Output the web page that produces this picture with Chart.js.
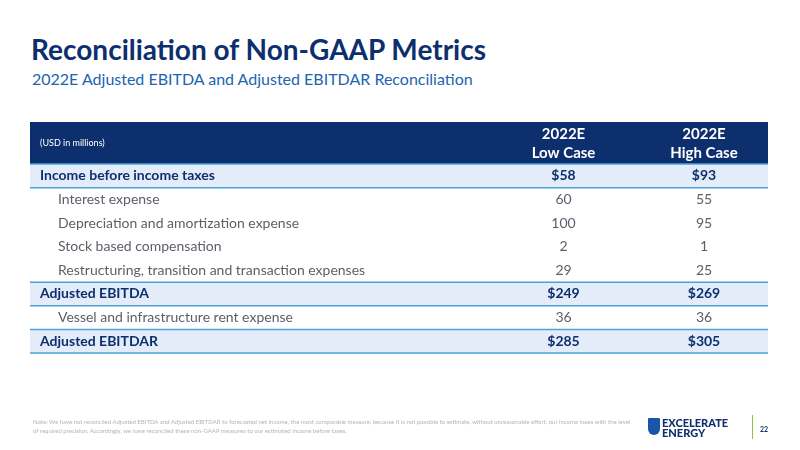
<!DOCTYPE html>
<html>
<head>
<meta charset="utf-8">
<script src="https://cdn.jsdelivr.net/npm/chart.js@4"></script>
<style>
  body { margin: 0; width: 800px; height: 450px; background: #fff; font-family: Lato, sans-serif; overflow: hidden; position: relative; }
  #title { position: absolute; left: 31px; top: 32px; font-size: 28px; font-weight: 700; color: #0d2f6e; }
  #sub { position: absolute; left: 32px; top: 69px; font-size: 16px; color: #2064b0; }
  #wrap { position: absolute; left: 0; top: 0; width: 800px; height: 450px; }
  #note { position: absolute; left: 33px; top: 417px; width: 600px; font-size: 6px; line-height: 9px; color: #b0b4bc; }
  #logo { position: absolute; left: 662px; top: 418px; font-size: 11px; font-weight: 900; line-height: 10px; color: #0d2f6e; }
  #shield { position: absolute; left: 648px; top: 418px; width: 12px; height: 17px; background: #1a56a8; border-radius: 1px 1px 6px 6px; }
  #bar { position: absolute; left: 752px; top: 415px; width: 1px; height: 24px; background: #8cc63f; }
  #pg { position: absolute; left: 760px; top: 425px; font-size: 7px; color: #0d2f6e; font-weight: 700; }
</style>
</head>
<body>
<div id="title">Reconciliation of Non-GAAP Metrics</div>
<div id="sub">2022E Adjusted EBITDA and Adjusted EBITDAR Reconciliation</div>
<div id="wrap"><canvas id="c" width="800" height="450"></canvas></div>
<div id="note">Note: We have not reconciled Adjusted EBITDA and Adjusted EBITDAR to forecasted net income, the most comparable measure, because it is not possible to estimate, without unreasonable effort, our income taxes with the level of required precision. Accordingly, we have reconciled these non-GAAP measures to our estimated income before taxes.</div>
<div id="shield"></div>
<div id="logo">EXCELERATE<br>ENERGY</div>
<div id="bar"></div>
<div id="pg">22</div>
<script>
// rows of the reconciliation table
const rowLabels = [
  'Income before income taxes',
  'Interest expense',
  'Depreciation and amortization expense',
  'Stock based compensation',
  'Restructuring, transition and transaction expenses',
  'Adjusted EBITDA',
  'Vessel and infrastructure rent expense',
  'Adjusted EBITDAR'
];
const lowCase = ['$58', '60', '100', '2', '29', '$249', '36', '$285'];
const highCase = ['$93', '55', '95', '1', '25', '$269', '36', '$305'];
const boldRows = [true, false, false, false, false, true, false, true];
const columnHeads = ['(USD in millions)', ['2022E', 'Low Case'], ['2022E', 'High Case']];

const NAVY = '#0d2f6e';
const LINE = '#4aa3df';

const tablePlugin = {
  id: 'table',
  afterDatasetsDraw(chart) {
    const ctx = chart.ctx, a = chart.chartArea, y = chart.scales.y;
    const c1 = 487, c2 = 640, m1 = (c1 + c2) / 2, m2 = (c2 + a.right) / 2;
    const band = (a.bottom - a.top) / rowLabels.length;
    ctx.save();
    // header
    ctx.fillStyle = NAVY;
    ctx.fillRect(a.left, 122, a.right - a.left, a.top - 122);
    ctx.fillStyle = '#fff';
    ctx.font = '9px Lato';
    ctx.textBaseline = 'middle';
    ctx.fillText(columnHeads[0], a.left + 10, 143);
    ctx.font = 'bold 15px Lato';
    ctx.textAlign = 'center';
    [m1, m2].forEach((x, k) => {
      ctx.fillText(columnHeads[k + 1][0], x, 134);
      ctx.fillText(columnHeads[k + 1][1], x, 153);
    });
    rowLabels.forEach((lab, i) => {
      const cy = y.getPixelForValue(i);
      if (boldRows[i]) {
        ctx.strokeStyle = LINE;
        ctx.lineWidth = 1.5;
        ctx.beginPath();
        ctx.moveTo(a.left, cy - band / 2); ctx.lineTo(a.right, cy - band / 2);
        ctx.moveTo(a.left, cy + band / 2); ctx.lineTo(a.right, cy + band / 2);
        ctx.stroke();
      }
      ctx.textAlign = 'left';
      ctx.fillStyle = boldRows[i] ? NAVY : '#5a5f69';
      ctx.font = (boldRows[i] ? 'bold ' : '') + '14px Lato';
      ctx.fillText(lab, a.left + (boldRows[i] ? 10 : 28), cy);
      ctx.textAlign = 'center';
      ctx.fillText(lowCase[i], m1, cy);
      ctx.fillText(highCase[i], m2, cy);
    });
    ctx.restore();
  }
};

new Chart(document.getElementById('c'), {
  type: 'bar',
  data: {
    labels: rowLabels,
    datasets: [{
      data: boldRows.map(b => b ? [0, 1] : null),
      backgroundColor: '#e3ecf8',
      barPercentage: 1,
      categoryPercentage: 1
    }]
  },
  options: {
    indexAxis: 'y',
    responsive: false,
    animation: false,
    layout: { padding: { left: 30, right: 32, top: 164, bottom: 97 } },
    scales: {
      x: { display: false, min: 0, max: 1 },
      y: { display: false }
    },
    plugins: { legend: { display: false }, tooltip: { enabled: false } }
  },
  plugins: [tablePlugin]
});
</script>
</body>
</html>
